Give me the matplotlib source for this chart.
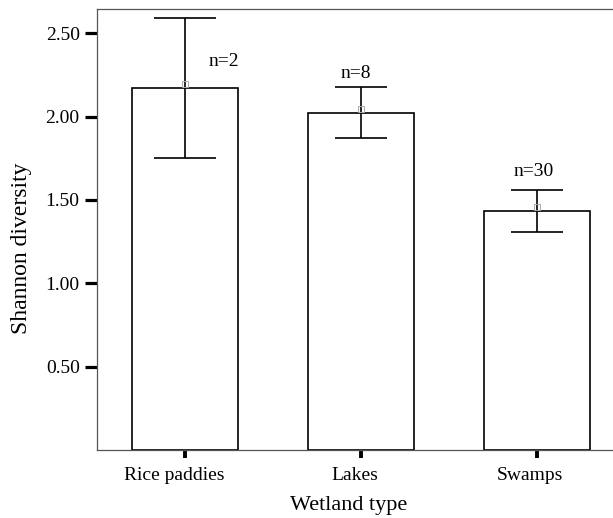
import matplotlib.pyplot as plt
import matplotlib.transforms as mtransforms
import numpy as np

plt.rcParams['font.family'] = ['Liberation Serif', 'DejaVu Serif']

# data
wetland_types = ['Rice paddies', 'Lakes', 'Swamps']
mean_diversity = [2.17, 2.02, 1.435]
err_low = [1.754, 1.874, 1.31]
err_high = [2.59, 2.176, 1.56]
n_labels = ['n=2', 'n=8', 'n=30']
y_ticks = [0.5, 1.0, 1.5, 2.0, 2.5]

fig = plt.figure(figsize=(6.13, 5.18), dpi=100)
W, H = 613, 518
# axes runs a bit past the right edge of the figure (cropped like the original)
ax = fig.add_axes([97 / W, (H - 450) / H, 528 / W, 441 / H])

x = np.arange(len(wetland_types))
ax.bar(x, mean_diversity, width=0.6, color='white', edgecolor='black',
       linewidth=1.2, zorder=2)

cap_sizes = [22.5, 19, 19]
for i in range(len(x)):
    lo = mean_diversity[i] - err_low[i]
    hi = err_high[i] - mean_diversity[i]
    ax.errorbar(x[i], mean_diversity[i], yerr=[[lo], [hi]], fmt='none',
                ecolor='black', elinewidth=1.2, capsize=cap_sizes[i],
                capthick=1.2, zorder=3)
    # small grey mean marker like SPSS
    ax.plot(x[i], mean_diversity[i] + 0.025, marker='s', markersize=4,
            markerfacecolor='none', markeredgecolor='#aaaaaa',
            markeredgewidth=0.7, zorder=4)

# n labels
n_pos = [(0.22, 2.33), (-0.03, 2.26), (-0.02, 1.67)]
for i, lab in enumerate(n_labels):
    ax.text(x[i] + n_pos[i][0], n_pos[i][1], lab, ha='center', va='center',
            fontsize=14)

ax.set_xlim(-0.5, 2.5)
ax.set_ylim(0, 2.646)
ax.set_yticks(y_ticks)
ax.set_yticklabels(['%.2f' % v for v in y_ticks])
ax.set_xticks(x)
ax.set_xticklabels(wetland_types)

for side in ['left', 'top', 'bottom', 'right']:
    ax.spines[side].set_color('#555555')
    ax.spines[side].set_linewidth(0.9)

ax.tick_params(axis='y', direction='out', length=8.5, width=2.3, pad=4,
               labelsize=14, color='black')
ax.tick_params(axis='x', direction='out', length=6, width=2.8, pad=6.5,
               labelsize=14, color='black')

# category labels sit a little left of their ticks in the original
shifts = [-11, -6.5, -7]
for lab, dx in zip(ax.get_xticklabels(), shifts):
    lab.set_transform(lab.get_transform() +
                      mtransforms.ScaledTranslation(dx / 100, 0, fig.dpi_scale_trans))

ax.set_ylabel('Shannon diversity', fontsize=17)
ax.yaxis.set_label_coords(-(97 - 32) / 528, 0.458)
ax.set_xlabel('Wetland type', fontsize=16)
ax.xaxis.set_label_coords((349 - 97) / 528, -(496 - 450) / 441)

fig.savefig('out.png', dpi=100)
